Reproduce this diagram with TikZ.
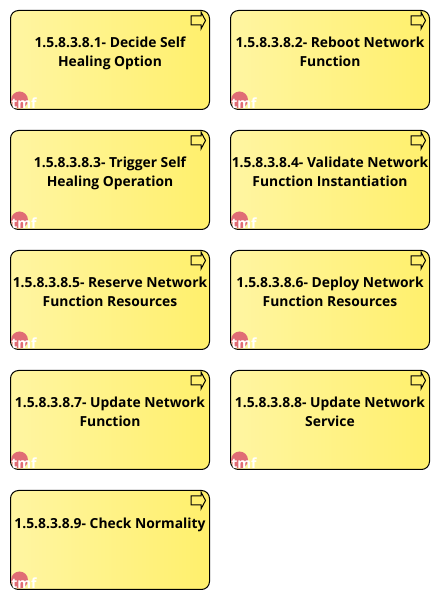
\documentclass[tikz,border=0pt]{standalone}
\usepackage{fontspec}
\setmainfont{Open Sans}
\usetikzlibrary{positioning, shadings}
\definecolor{tmfred}{RGB}{224,108,117}
\definecolor{procleft}{RGB}{255,245,162}
\definecolor{procright}{RGB}{255,240,108}
\tikzset{
  procbox/.style={draw=black, line width=1pt, rounded corners=8pt, minimum width=199pt, minimum height=99pt,
    outer sep=0pt, left color=procleft, right color=procright},
  proctext/.style={align=center, inner sep=0pt, font=\bfseries\fontsize{13.85}{19}\selectfont,
    execute at begin node=\strut, execute at end node=\strut},
  tmfdot/.style={circle, fill=tmfred, minimum size=17pt, inner sep=0pt},
  tmflabel/.style={text=white, inner sep=0pt, font=\bfseries\fontsize{14}{14}\selectfont},
  arrowmark/.style={draw=black, line width=1pt, fill=none}
}
\begin{document}
\begin{tikzpicture}[x=1pt, y=1pt, node distance=21pt]
\useasboundingbox (0,0) rectangle (440,600);

% process boxes
\node[procbox] (p1) at (110,540) {};
\node[procbox, right=of p1] (p2) {};
\node[procbox, below=of p1] (p3) {};
\node[procbox, below=of p2] (p4) {};
\node[procbox, below=of p3] (p5) {};
\node[procbox, below=of p4] (p6) {};
\node[procbox, below=of p5] (p7) {};
\node[procbox, below=of p6] (p8) {};
\node[procbox, below=of p7] (p9) {};

% box titles
\node[proctext, yshift=5.5pt] (t1) at (p1) {1.5.8.3.8.1- Decide Self\\Healing Option};
\node[proctext, yshift=5.5pt] (t2) at (p2) {1.5.8.3.8.2- Reboot Network\\Function};
\node[proctext, yshift=5.5pt] (t3) at (p3) {1.5.8.3.8.3- Trigger Self\\Healing Operation};
\node[proctext, yshift=5.5pt] (t4) at (p4) {1.5.8.3.8.4- Validate Network\\Function Instantiation};
\node[proctext, yshift=5.5pt] (t5) at (p5) {1.5.8.3.8.5- Reserve Network\\Function Resources};
\node[proctext, yshift=5.5pt] (t6) at (p6) {1.5.8.3.8.6- Deploy Network\\Function Resources};
\node[proctext, yshift=5.5pt] (t7) at (p7) {1.5.8.3.8.7- Update Network\\Function};
\node[proctext, yshift=5.5pt] (t8) at (p8) {1.5.8.3.8.8- Update Network\\Service};
\node[proctext, yshift=15.5pt] (t9) at (p9) {1.5.8.3.8.9- Check Normality};

% tmf badge and arrow of each box
\foreach \n in {p1,p2,p3,p4,p5,p6,p7,p8,p9} {
  \node[tmfdot] (\n dot) at ([shift={(9,9.5)}]\n.south west) {};
  \node[tmflabel] (\n tmf) at ([shift={(13.5,6)}]\n.south west) {tmf};
  \draw[arrowmark] ([shift={(-18.5,-5.5)}]\n.north east) -- ++(10,0) -- ++(0,4) -- ++(4.5,-8.5)
    -- ++(-4.5,-8.5) -- ++(0,4) -- ++(-10,0) -- cycle;
}
\end{tikzpicture}
\end{document}
